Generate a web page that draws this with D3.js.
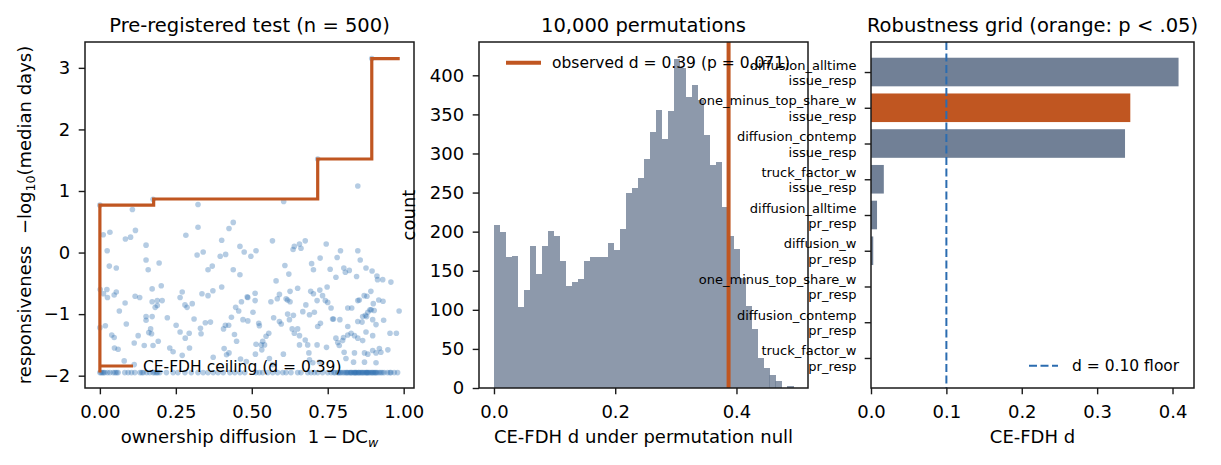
<!DOCTYPE html>
<html>
<head>
<meta charset="utf-8">
<script src="https://cdn.jsdelivr.net/npm/d3@7"></script>
<style>
  body { margin: 0; background: #fff; }
  text { font-family: "DejaVu Sans", sans-serif; fill: #000; }
</style>
</head>
<body>
<div id="chart"></div>
<script>
// ---- data ----
const FLOOR = -1.95;   // responsiveness floor (many repos sit here)

// [ownership diffusion, responsiveness] above the floor
const scatterPts = [
  [0,0.77],[0.175,0.864],[0.107,0.70],[0.323,0.78],[0.439,0.49],[0.425,0.39],
  [0.011,0.29],[0.033,0.33],[0.117,0.36],[0.084,0.22],[0.101,0.25],[0.283,0.28],[0.323,0.41],[0.401,0.20],
  [0.152,0.12],[0.024,0.03],[0.340,0.01],[0.320,-0.04],[0.461,0.10],[0.475,0.01],[0.396,-0.06],[0.414,-0.03],
  [0.152,-0.12],[0.195,-0.17],[0.031,-0.22],[0.054,-0.25],[0.159,-0.28],[0.370,-0.22],[0.356,-0.28],[0.439,-0.28],[0.461,-0.36],
  [0.202,-0.54],[0.172,-0.59],[0.001,-0.60],[0.023,-0.60],[0.012,-0.67],[0.025,-0.73],[0.054,-0.64],[0.047,-0.69],[0.116,-0.71],
  [0.131,-0.73],[0.271,-0.64],[0.264,-0.73],[0.336,-0.67],[0.356,-0.70],[0.372,-0.62],[0.401,-0.56],[0.485,-0.72],
  [0.083,-0.82],[0.172,-0.80],[0.189,-0.78],[0.205,-0.78],[0.189,-0.86],[0.182,-0.89],[0.280,-0.85],[0.287,-0.89],[0.304,-0.83],
  [0.064,-0.95],[0.447,-0.89],[0.457,-0.95],[0.466,-0.80],[0.433,-1.05],
  [0.152,-1.04],[0.172,-1.04],[0.152,-1.10],[0.222,-1.06],[0.310,-1.08],[0.347,-1.14],[0.364,-1.13],[0.251,-1.18],[0.087,-1.16],
  [0.018,-1.19],[0,-1.22],[0.331,-1.23],[0.413,-1.18],[0.424,-1.18],[0.407,-1.24],[0.471,-1.09],
  [0.167,-1.24],[0.161,-1.30],[0.170,-1.32],[0.264,-1.29],[0.294,-1.31],[0.281,-1.39],[0.333,-1.32],[0.039,-1.34],[0.047,-1.38],
  [0.126,-1.35],[0.443,-1.33],[0.450,-1.44],
  [0.113,-1.47],[0.146,-1.51],[0.175,-1.51],[0.192,-1.44],[0.048,-1.55],[0.060,-1.57],[0.230,-1.55],[0.241,-1.61],[0.295,-1.55],
  [0.409,-1.56],[0.425,-1.63],[0.417,-1.66],[0.271,-1.67],[0.373,-1.70],[0.080,-1.76],[0.113,-1.82],[0.463,-1.73],[0.482,-1.77],
  [0.849,1.08],[0.605,0.83],[0.717,1.52],[0.895,3.15],
  [0.568,0.19],[0.676,0.19],[0.657,0.14],[0.636,0.05],[0.662,0.07],[0.640,0.10],[0.745,0.14],[0.792,0.03],[0.781,-0.08],
  [0.849,0.03],[0.857,-0.12],[0.497,-0.06],[0.514,0.03],[0.725,-0.09],[0.609,-0.21],[0.697,-0.18],[0.703,-0.28],[0.758,-0.27],
  [0.803,-0.25],[0.821,-0.29],[0.808,-0.32],[0.876,-0.25],[0.896,-0.30],[0.912,-0.38],[0.914,-0.44],[0.931,-0.44],[0.958,-0.48],
  [0.845,-0.39],[0.777,-0.40],[0.622,-0.35],[0.580,-0.46],[0.748,-0.56],[0.651,-0.58],
  [0.626,-0.63],[0.694,-0.63],[0.703,-0.67],[0.724,-0.61],[0.733,-0.70],[0.742,-0.78],[0.750,-0.81],[0.761,-0.90],[0.769,-1.08],
  [0.892,-0.63],[0.870,-0.70],[0.879,-0.71],[0.854,-0.77],[0.849,-0.78],[0.918,-0.77],[0.900,-0.83],[0.932,-0.79],[0.903,-0.94],
  [0.889,-0.93],[0.878,-1.04],[0.865,-1.04],[0.985,-0.95],[0.511,-0.66],[0.511,-0.78],[0.504,-0.97],[0.487,-0.73],[0.563,-0.80],
  [0.584,-0.75],[0.591,-0.68],[0.613,-0.75],[0.618,-0.77],[0.626,-0.80],[0.678,-0.85],[0.668,-0.96],[0.690,-1.01],[0.706,-0.97],
  [0.715,-0.78],[0.618,-1.00],[0.637,-1.02],[0.624,-1.09],[0.572,-1.06],[0.591,-1.12],[0.597,-1.16],[0.523,-1.15],[0.525,-1.19],
  [0.487,-1.11],[0.726,-1.15],[0.717,-1.20],[0.766,-1.08],[0.790,-1.09],[0.816,-1.20],[0.816,-0.90],[0.829,-0.90],[0.849,-1.12],
  [0.863,-1.13],[0.874,-1.02],[0.882,-0.97],[0.893,-0.93],[0.898,-1.09],[0.909,-1.17],[0.898,-1.35],[0.934,-1.10],
  [0.633,-1.24],[0.651,-1.24],[0.657,-1.35],[0.640,-1.31],[0.556,-1.31],[0.547,-1.36],[0.536,-1.44],[0.531,-1.50],[0.514,-1.49],
  [0.542,-1.50],[0.676,-1.42],[0.684,-1.50],[0.657,-1.50],[0.715,-1.50],[0.746,-1.54],[0.777,-1.39],[0.783,-1.46],[0.788,-1.51],
  [0.802,-1.38],[0.799,-1.43],[0.816,-1.34],[0.827,-1.31],[0.838,-1.35],[0.849,-1.39],[0.865,-1.43],[0.876,-1.29],[0.871,-1.63],
  [0.882,-1.65],[0.898,-1.59],[0.909,-1.63],[0.920,-1.56],[0.925,-1.62],[0.948,-1.58],[0.976,-1.31],[0.955,-1.31],[0.512,-1.65],
  [0.533,-1.58],[0.604,-1.65],[0.558,-1.72],[0.569,-1.82],[0.688,-1.63],[0.690,-1.74],[0.701,-1.79],[0.723,-1.78],[0.804,-1.62],
  [0.838,-1.63],[0.835,-1.78],[0.871,-1.78],[0.909,-1.79],[0.810,-1.72]
];

// diffusion of the repos sitting on the floor
const floorDiffusion = [
  0,0.004,0.008,0.012,0.016,0.025,0.033,0.044,0.05,0.055,0.060,0.082,0.093,0.104,0.115,0.132,0.138,0.143,0.154,0.164,
  0.175,0.18,0.186,0.19,0.197,0.219,0.241,0.257,0.280,0.301,0.323,0.340,0.356,0.373,0.389,0.406,0.428,0.444,0.461,0.477,
  0.514,0.525,0.536,0.553,0.569,0.585,0.602,0.613,0.629,0.651,0.662,0.684,0.695,0.706,0.717,0.733,0.750,0.761,0.77,0.774,
  0.783,0.79,0.794,0.80,0.805,0.81,0.816,0.821,0.825,0.827,0.83,0.835,0.84,0.843,0.845,0.850,0.855,0.859,0.862,0.868,
  0.872,0.876,0.88,0.886,0.89,0.894,0.9,0.904,0.91,0.914,0.92,0.925,0.936,0.947,0.955,0.958,0.969,0.980,
  0.786,0.813,0.838,0.852,0.865,0.878,0.883,0.897,0.907,0.93
];

// CE-FDH ceiling support points
const ceilX = [0, 0, 0.177, 0.717, 0.895, 0.987];
const ceilY = [FLOOR, 0.77, 0.87, 1.52, 3.15, 3.15];

// permutation null histogram: 50 bins between histMin and histMax
const histMin = 0, histMax = 0.494;
const histCounts = [
  209,199,168,169,103,126,182,146,182,201,
  194,163,131,135,140,163,167,167,168,186,
  177,204,249,256,269,293,327,356,318,354,
  421,409,372,388,368,324,285,289,232,195,
  178,141,105,75,39,26,17,9,0,2
];
const observedD = 0.387;

// robustness grid
const gridMeasure = ["diffusion_alltime","one_minus_top_share_w","diffusion_contemp","truck_factor_w",
                     "diffusion_alltime","diffusion_w","one_minus_top_share_w","diffusion_contemp","truck_factor_w"];
const gridOutcome = ["issue_resp","issue_resp","issue_resp","issue_resp","pr_resp","pr_resp","pr_resp","pr_resp","pr_resp"];
const gridD = [0.408, 0.344, 0.337, 0.017, 0.008, 0.003, 0, 0, 0];
const gridSig = [false, true, false, false, false, false, false, false, false];
const floorD = 0.10;

// ---- drawing ----
const W = 1221, H = 465;
const ORANGE = "#c05621", SLATE = "#718096", BLUE = "#2b6cb0", INK = "#1a1a1a";
const TICK = 18, TITLE = 19.5, LEG = 15.5;

const svg = d3.select("#chart").append("svg").attr("width", W).attr("height", H);

function styleAxis(g, fs) {
  g.selectAll(".domain").remove();
  g.selectAll(".tick line").attr("stroke", INK).attr("stroke-width", 1.4);
  g.selectAll(".tick text").attr("font-size", fs).attr("fill", "#000")
    .style("font-family", '"DejaVu Sans", sans-serif');
}
function frame(x0, y0, x1, y1) {
  svg.append("rect").attr("x", x0).attr("y", y0).attr("width", x1 - x0).attr("height", y1 - y0)
    .attr("fill", "none").attr("stroke", INK).attr("stroke-width", 1.5);
}
function title(txt, cx) {
  svg.append("text").attr("x", cx).attr("y", 32).attr("text-anchor", "middle")
    .attr("font-size", TITLE).text(txt);
}

// ===== panel 1: scatter + ceiling =====
{
  const L = 85, R = 414, T = 42, B = 388;
  const x = d3.scaleLinear().domain([-0.049, 1.034]).range([L, R]);
  const y = d3.scaleLinear().domain([-2.2, 3.42]).range([B, T]);

  const g = svg.append("g");
  g.selectAll("circle.pt").data(scatterPts).enter().append("circle")
    .attr("class", "pt").attr("cx", d => x(d[0])).attr("cy", d => y(d[1])).attr("r", 2.8)
    .attr("fill", BLUE).attr("fill-opacity", 0.35);
  g.selectAll("circle.fl").data(floorDiffusion).enter().append("circle")
    .attr("class", "fl").attr("cx", d => x(d)).attr("cy", y(FLOOR)).attr("r", 2.8)
    .attr("fill", BLUE).attr("fill-opacity", 0.35);

  const ceil = d3.line().x(d => x(d[0])).y(d => y(d[1])).curve(d3.curveStepAfter);
  g.append("path").attr("d", ceil(d3.zip(ceilX, ceilY)))
    .attr("fill", "none").attr("stroke", ORANGE).attr("stroke-width", 3.2);

  // legend
  g.append("line").attr("x1", 100).attr("x2", 133).attr("y1", 366).attr("y2", 366)
    .attr("stroke", ORANGE).attr("stroke-width", 3.2);
  g.append("text").attr("x", 143).attr("y", 371.5).attr("font-size", LEG).text("CE-FDH ceiling (d = 0.39)");

  const ax = svg.append("g").attr("transform", `translate(0,${B})`)
    .call(d3.axisBottom(x).tickValues([0, 0.25, 0.5, 0.75, 1]).tickFormat(d3.format(".2f"))
      .tickSize(6.3).tickPadding(10.5));
  styleAxis(ax, TICK);
  const ay = svg.append("g").attr("transform", `translate(${L},0)`)
    .call(d3.axisLeft(y).tickValues([-2, -1, 0, 1, 2, 3]).tickFormat(d3.format("d"))
      .tickSize(6.3).tickPadding(8.5));
  styleAxis(ay, TICK);
  frame(L, T, R, B);
  title("Pre-registered test (n = 500)", (L + R) / 2);

  const xl = svg.append("text").attr("x", (L + R) / 2).attr("y", 443).attr("text-anchor", "middle")
    .attr("font-size", 18).style("white-space", "pre");
  xl.append("tspan").text("ownership diffusion  1\u2009\u2212\u2009DC");
  xl.append("tspan").attr("font-style", "italic").attr("font-size", 12.6).attr("dy", 3.5)
    .attr("fill", "#000").text("w");

  const yl = svg.append("text").attr("transform", `translate(31,${(T + B) / 2}) rotate(-90)`)
    .attr("text-anchor", "middle").attr("font-size", 18).style("white-space", "pre");
  yl.append("tspan").text("responsiveness  \u2212log");
  yl.append("tspan").attr("font-size", 12.6).attr("dy", 3.5).text("10");
  yl.append("tspan").attr("dy", -3.5).text("(median days)");
}

// ===== panel 2: permutation histogram =====
{
  const L = 479, R = 808, T = 42, B = 388;
  const x = d3.scaleLinear().domain([-0.0247, 0.518]).range([L, R]);
  const y = d3.scaleLinear().domain([0, 442.6]).range([B, T]);
  const bw = (histMax - histMin) / histCounts.length;

  svg.append("g").selectAll("rect").data(histCounts).enter().append("rect")
    .attr("x", (d, i) => x(histMin + i * bw))
    .attr("width", (d, i) => x(histMin + (i + 1) * bw) - x(histMin + i * bw) + 0.3)
    .attr("y", d => y(d)).attr("height", d => y(0) - y(d))
    .attr("fill", SLATE).attr("fill-opacity", 0.8).attr("shape-rendering", "crispEdges");

  svg.append("line").attr("x1", x(observedD)).attr("x2", x(observedD)).attr("y1", T).attr("y2", B)
    .attr("stroke", ORANGE).attr("stroke-width", 4);

  svg.append("line").attr("x1", 506).attr("x2", 541).attr("y1", 62.7).attr("y2", 62.7)
    .attr("stroke", ORANGE).attr("stroke-width", 4);
  svg.append("text").attr("x", 552).attr("y", 68).attr("font-size", LEG)
    .text("observed d = 0.39 (p = 0.071)");

  const ax = svg.append("g").attr("transform", `translate(0,${B})`)
    .call(d3.axisBottom(x).tickValues([0, 0.2, 0.4]).tickFormat(d3.format(".1f"))
      .tickSize(6.3).tickPadding(10.5));
  styleAxis(ax, TICK);
  const ay = svg.append("g").attr("transform", `translate(${L},0)`)
    .call(d3.axisLeft(y).tickValues(d3.range(0, 401, 50)).tickFormat(d3.format("d"))
      .tickSize(6.3).tickPadding(8.5));
  styleAxis(ay, TICK);
  frame(L, T, R, B);
  title("10,000 permutations", (L + R) / 2);

  svg.append("text").attr("x", (L + R) / 2).attr("y", 443).attr("text-anchor", "middle")
    .attr("font-size", 18).text("CE-FDH d under permutation null");
  svg.append("text").attr("transform", `translate(415,${(T + B) / 2}) rotate(-90)`)
    .attr("text-anchor", "middle").attr("font-size", 18).text("count");
}

// ===== panel 3: robustness grid =====
{
  const L = 871, R = 1194, T = 42, B = 388;
  const x = d3.scaleLinear().domain([0, 0.4285]).range([L, R]);
  const y = d3.scaleLinear().domain([-0.84, gridD.length - 1 + 0.84]).range([T, B]);

  svg.append("g").selectAll("rect").data(gridD).enter().append("rect")
    .attr("x", x(0)).attr("width", d => x(d) - x(0))
    .attr("y", (d, i) => y(i - 0.4)).attr("height", (d, i) => y(i + 0.4) - y(i - 0.4))
    .attr("fill", (d, i) => gridSig[i] ? ORANGE : SLATE);

  svg.append("line").attr("x1", x(floorD)).attr("x2", x(floorD)).attr("y1", T).attr("y2", B)
    .attr("stroke", BLUE).attr("stroke-width", 2).attr("stroke-dasharray", "8,3.5");

  svg.append("line").attr("x1", 1029).attr("x2", 1058).attr("y1", 365.7).attr("y2", 365.7)
    .attr("stroke", BLUE).attr("stroke-width", 2).attr("stroke-dasharray", "8,3.5");
  svg.append("text").attr("x", 1072).attr("y", 371).attr("font-size", LEG).text("d = 0.10 floor");

  const ax = svg.append("g").attr("transform", `translate(0,${B})`)
    .call(d3.axisBottom(x).tickValues([0, 0.1, 0.2, 0.3, 0.4]).tickFormat(d3.format(".1f"))
      .tickSize(6.3).tickPadding(10.5));
  styleAxis(ax, TICK);
  const ay = svg.append("g").attr("transform", `translate(${L},0)`)
    .call(d3.axisLeft(y).tickValues(d3.range(gridD.length)).tickFormat("").tickSize(6.3));
  styleAxis(ay, TICK);

  const lab = svg.append("g").selectAll("text").data(gridMeasure).enter().append("text")
    .attr("text-anchor", "end").attr("font-size", 13);
  lab.append("tspan").attr("x", L - 14.5).attr("y", (d, i) => y(i) - 2.5).text(d => d);
  lab.append("tspan").attr("x", L - 14.5).attr("y", (d, i) => y(i) + 13).text((d, i) => gridOutcome[i]);

  frame(L, T, R, B);
  title("Robustness grid (orange: p < .05)", (L + R) / 2);
  svg.append("text").attr("x", (L + R) / 2).attr("y", 443).attr("text-anchor", "middle")
    .attr("font-size", 18).text("CE-FDH d");
}
</script>
</body>
</html>
